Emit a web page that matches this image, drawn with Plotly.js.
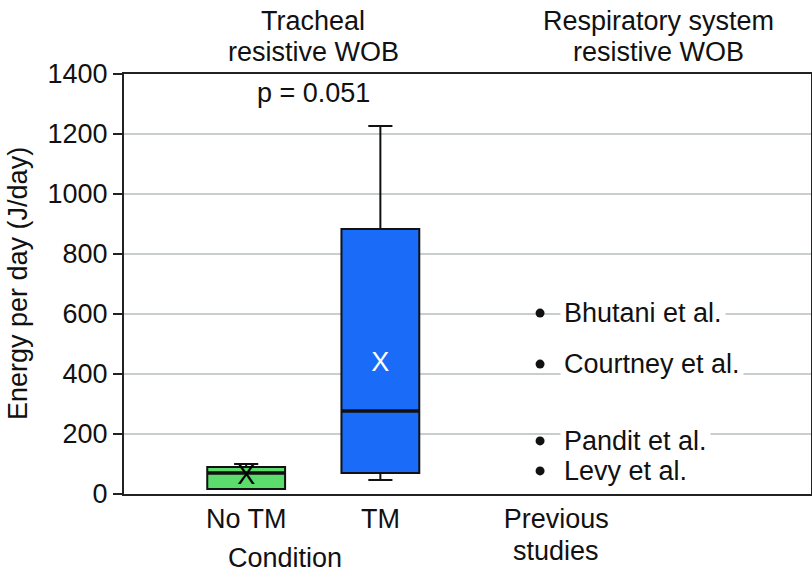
<!DOCTYPE html>
<html><head><meta charset="utf-8">
<script src="https://cdn.plot.ly/plotly-3.0.1.min.js"></script>
<style>html,body{margin:0;padding:0;background:#fff}#chart{width:812px;height:575px}</style>
</head><body><div id="chart"></div>
<script>
// Categories and positions
const conditions = ['No TM', 'TM'];
const conditionX = [1, 2];
const previousX = 3.31;
const tickLabels = ['No TM', 'TM', 'Previous'];
const tickLabelSecondLine = 'studies';
// Box statistics (J/day)
const q1 = [17, 70];
const median = [70, 277];
const q3 = [90, 883];
const lowerWhisker = [17, 47];
const upperWhisker = [100, 1227];
const means = [57, 433];
const boxColors = ['#5cdc6c', '#1a6cf8'];
const meanColors = ['#000000', '#ffffff'];
// Previous studies
const studies = ['Bhutani et al.', 'Courtney et al.', 'Pandit et al.', 'Levy et al.'];
const studyValues = [603, 433, 177, 77];
const studyX = 3.19;

const font = 'Liberation Sans, Arial, Helvetica, sans-serif';
const FS = 27;
const BOXW = 0.58;
const traces = [];
for (let i = 0; i < conditions.length; i++) {
  traces.push({
    type: 'box', x: [conditionX[i]], q1: [q1[i]], median: [median[i]], q3: [q3[i]],
    lowerfence: [lowerWhisker[i]], upperfence: [upperWhisker[i]],
    width: BOXW, whiskerwidth: 0.31, boxpoints: false,
    fillcolor: boxColors[i], line: {color: '#111', width: 2},
    hoverinfo: 'skip', showlegend: false
  });
  // thicker median line
  traces.push({
    type: 'scatter', mode: 'lines',
    x: [conditionX[i] - BOXW / 2, conditionX[i] + BOXW / 2], y: [median[i], median[i]],
    line: {color: '#111', width: 3.5}, showlegend: false, hoverinfo: 'skip'
  });
  traces.push({
    type: 'scatter', mode: 'text', x: [conditionX[i]], y: [means[i]], text: ['X'],
    textfont: {family: font, size: FS, color: meanColors[i]}, showlegend: false, hoverinfo: 'skip'
  });
}
traces.push({
  type: 'scatter', mode: 'markers', x: studies.map(() => studyX), y: studyValues,
  marker: {color: '#111', size: 9}, showlegend: false, hoverinfo: 'skip'
});

const tf = {family: font, size: FS, color: '#111'};
const annotations = studies.map((s, i) => ({
  x: studyX + 0.15, y: studyValues[i], xref: 'x', yref: 'y', text: s, showarrow: false,
  xanchor: 'left', yanchor: 'middle', bgcolor: '#ffffff', borderpad: 3, font: tf
}));
const ann = (x, xref, y, yshift, text, extra) => Object.assign({
  x: x, y: y, xref: xref, yref: 'paper', yshift: yshift, text: text, showarrow: false,
  xanchor: 'center', yanchor: 'middle', font: tf
}, extra || {});
annotations.push(
  ann(1.5, 'x', 1, 53, 'Tracheal'),
  ann(1.5, 'x', 1, 22, 'resistive WOB'),
  ann(4.07, 'x', 1, 53, 'Respiratory system'),
  ann(4.07, 'x', 1, 22, 'resistive WOB'),
  ann(1.5, 'x', 1, -19, 'p = 0.051'),
  ann(previousX, 'x', 0, -57, tickLabelSecondLine),
  ann(1.29, 'x', 0, -64, 'Condition'),
  Object.assign(ann(0, 'paper', 0.5, 0, 'Energy per day (J/day)'), {xshift: -106, textangle: -90})
);

const layout = {
  width: 812, height: 575,
  margin: {l: 124, r: 1, t: 74, b: 81},
  paper_bgcolor: '#fff', plot_bgcolor: '#fff',
  font: tf,
  xaxis: {range: [0.0896, 5.209], tickmode: 'array', tickvals: [conditionX[0], conditionX[1], previousX],
    ticktext: tickLabels, ticks: '', showgrid: false, zeroline: false,
    showline: true, mirror: true, linecolor: '#222', linewidth: 2, tickfont: tf},
  yaxis: {range: [0, 1400], tickvals: [0, 200, 400, 600, 800, 1000, 1200, 1400],
    ticks: 'outside', ticklen: 9, tickwidth: 2, tickcolor: '#222',
    showgrid: true, gridcolor: '#c8cdcd', gridwidth: 1.5, zeroline: false,
    showline: true, mirror: true, linecolor: '#222', linewidth: 2, tickfont: tf},
  annotations: annotations
};
Plotly.newPlot('chart', traces, layout, {staticPlot: true, displayModeBar: false});
</script></body></html>
